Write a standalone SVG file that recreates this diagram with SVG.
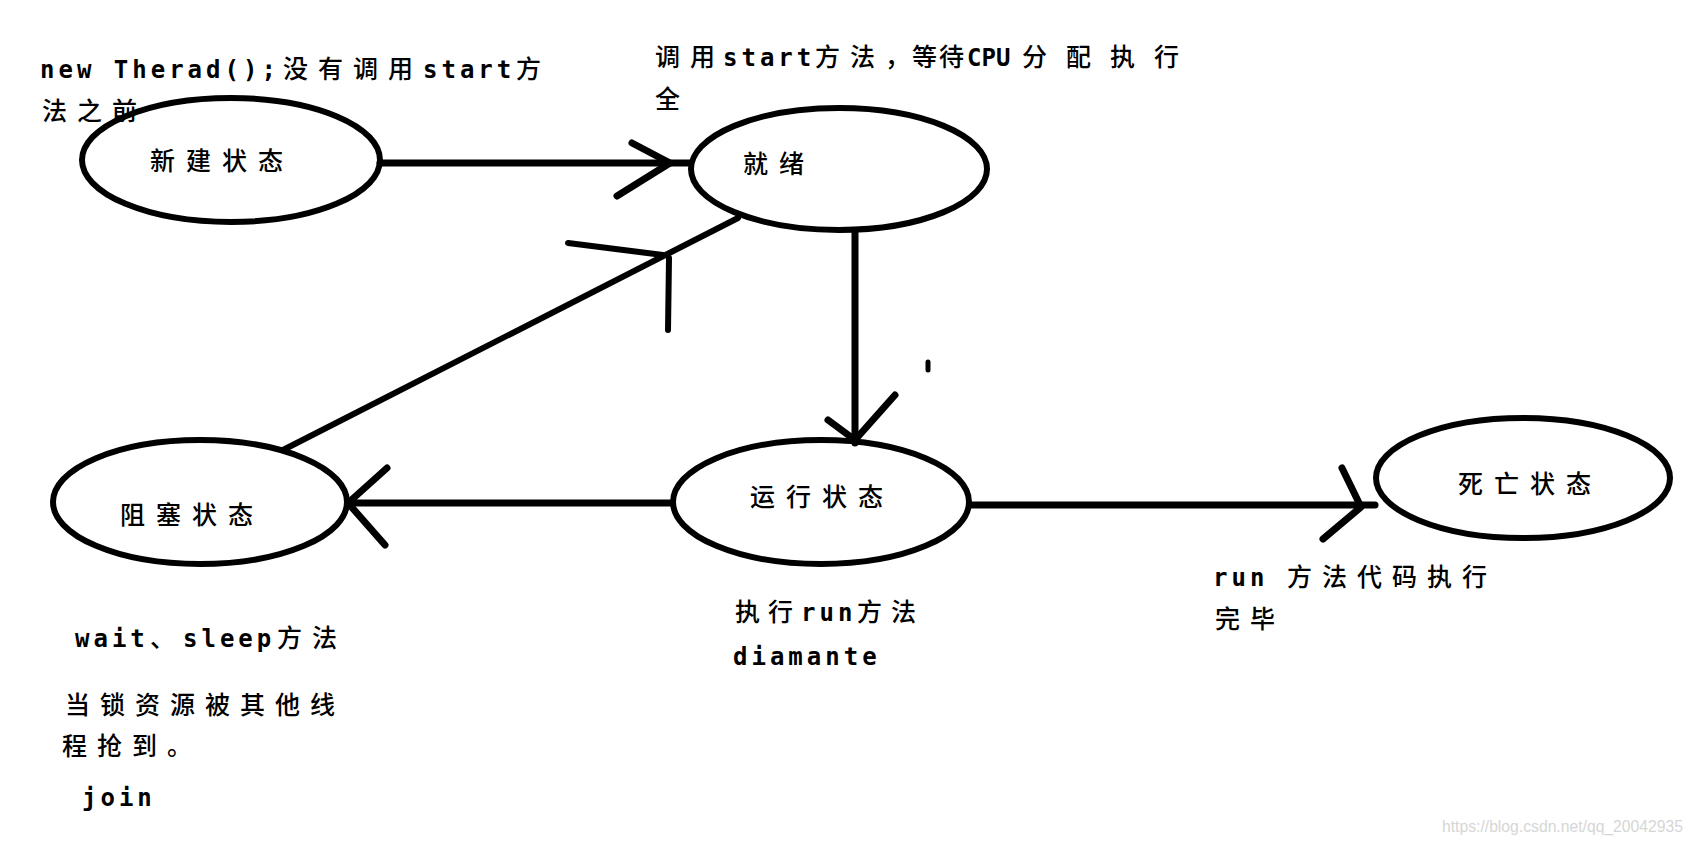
<svg xmlns="http://www.w3.org/2000/svg" width="1694" height="846" viewBox="0 0 1694 846">
<style>
.node ellipse{fill:none;stroke:#000;stroke-width:6}
.lbl{font-family:"Noto Sans CJK SC",sans-serif;font-size:25px;letter-spacing:11px;fill:#000;font-weight:500}
.c{font-family:"Noto Sans CJK SC",sans-serif;font-size:25px;letter-spacing:10px;font-weight:500}
.a{font-family:"DejaVu Sans Mono",monospace;font-weight:bold;font-size:24px;letter-spacing:4px}
.t{fill:#000}
.edge line,.edge path{stroke:#000;stroke-width:7;stroke-linecap:round;stroke-linejoin:round;fill:none}
</style>
<rect width="1694" height="846" fill="#fff"/>
<g id="connectors" class="edge">
  <line x1="380" y1="163" x2="690" y2="163"/>
  <path d="M632,143 L670,163 L617,196"/>
  <line x1="855" y1="232" x2="855" y2="443"/>
  <path d="M828,420 L855,440 L895,395"/>
  <line x1="670" y1="503" x2="348" y2="503"/>
  <path d="M387,468 L348,503 L385,545"/>
  <line x1="283" y1="450" x2="738" y2="218" style="stroke-width:6"/>
  <path d="M568,243 L663,255" style="stroke-width:6"/>
  <line x1="669" y1="258" x2="668" y2="330" style="stroke-width:6"/>
  <line x1="972" y1="505" x2="1375" y2="505"/>
  <path d="M1342,468 L1361,507 L1323,539"/>
  <line x1="928" y1="362" x2="928" y2="370" style="stroke-width:5"/>
</g>
<g id="node-new" class="node">
  <ellipse cx="231" cy="160" rx="149" ry="62"/>
  <text class="lbl" x="150" y="170">新建状态</text>
</g>
<g id="node-ready" class="node">
  <ellipse cx="839" cy="169" rx="148" ry="61"/>
  <text class="lbl" x="743" y="173">就绪</text>
</g>
<g id="node-blocked" class="node">
  <ellipse cx="200" cy="502" rx="147" ry="62"/>
  <text class="lbl" x="120" y="524">阻塞状态</text>
</g>
<g id="node-running" class="node">
  <ellipse cx="821" cy="502" rx="148" ry="62"/>
  <text class="lbl" x="750" y="506">运行状态</text>
</g>
<g id="node-dead" class="node">
  <ellipse cx="1523" cy="478" rx="147" ry="60"/>
  <text class="lbl" x="1458" y="493">死亡状态</text>
</g>
<g id="annotations" class="t">
  <text y="78"><tspan class="a" x="40">new Therad();</tspan><tspan class="c" x="283">没有调用</tspan><tspan class="a" x="423">start</tspan><tspan class="c" x="516">方</tspan></text>
  <text y="120"><tspan class="c" x="42">法之前</tspan></text>
  <text y="66"><tspan class="c" x="655">调用</tspan><tspan class="a" x="723">start</tspan><tspan class="c" x="815">方法</tspan><tspan class="c" x="885" style="letter-spacing:0">，</tspan><tspan class="c" x="912" style="letter-spacing:2px">等待</tspan><tspan class="a" x="967" style="letter-spacing:0">CPU</tspan><tspan class="c" x="1022" style="letter-spacing:19px">分配执行</tspan></text>
  <text y="108"><tspan class="c" x="655">全</tspan></text>
  <text y="647"><tspan class="a" x="75">wait</tspan><tspan class="c" x="150">、</tspan><tspan class="a" x="183">sleep</tspan><tspan class="c" x="277">方法</tspan></text>
  <text y="714"><tspan class="c" x="65">当锁资源被其他线</tspan></text>
  <text y="755"><tspan class="c" x="62">程抢到。</tspan></text>
  <text y="806"><tspan class="a" x="82">join</tspan></text>
  <text y="621"><tspan class="c" x="735" style="letter-spacing:8px">执行</tspan><tspan class="a" x="801">run</tspan><tspan class="c" x="857" style="letter-spacing:9px">方法</tspan></text>
  <text y="665"><tspan class="a" x="733">diamante</tspan></text>
  <text y="586"><tspan class="a" x="1213">run</tspan><tspan class="c" x="1287">方法代码执行</tspan></text>
  <text y="628"><tspan class="c" x="1215">完毕</tspan></text>
</g>
<text id="watermark" x="1442" y="832" font-family="Liberation Sans, sans-serif" font-size="17" fill="#d6d6d6" textLength="241" lengthAdjust="spacingAndGlyphs">https://blog.csdn.net/qq_20042935</text>
</svg>
